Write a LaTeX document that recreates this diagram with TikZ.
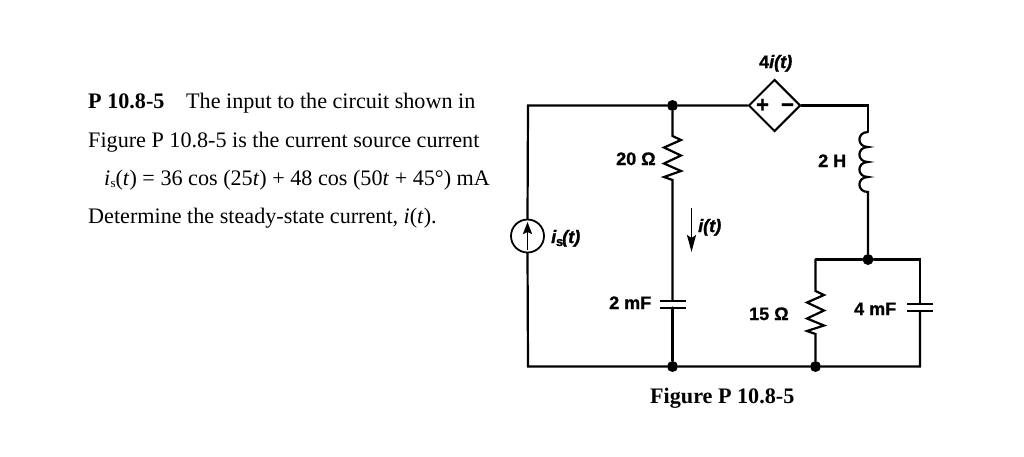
\documentclass[tikz,border=0pt]{standalone}
\usepackage{fontspec}
\setmainfont{Liberation Serif}
\newfontfamily\lab[BoldFeatures={FakeBold=1.2},BoldItalicFeatures={FakeBold=1.6}]{Liberation Sans}
\usetikzlibrary{shapes.geometric,arrows.meta}
\tikzset{
  x=1pt,y=-1pt,
  wire/.style={line width=2.2pt,line cap=round,line join=miter,black},
  thinw/.style={line width=2pt,line join=miter,black},
  dotn/.style={circle,fill=black,inner sep=0pt,minimum size=11pt},
  para/.style={anchor=base west,inner sep=0pt,font=\fontsize{22.15}{22}\selectfont},
  lbl/.style={anchor=base west,inner sep=0pt,font=\lab\bfseries\fontsize{18}{18}\selectfont},
  ptr/.style={line width=1.8pt,-{Stealth[length=17pt,width=9pt,inset=3pt]}},
}
\begin{document}
\begin{tikzpicture}
\useasboundingbox (0,0) rectangle (1024,456);
% text
\node[para] (t1a) at (88,108) {\textbf{P 10.8-5}};
\node[para] (t1b) at (186,108) {The input to the circuit shown in};
\node[para] (t2) at (88,147) {Figure P 10.8-5 is the current source current};
\node[para] (t3) at (104,185) {\textit{i}\kern0.2pt\raisebox{-2pt}{\fontsize{13}{13}\selectfont s}(\textit{t}) = 36 cos (25\textit{t}) + 48 cos (50\textit{t} + 45°) mA};
\node[para] (t4) at (88,223) {Determine the steady-state current, \textit{i}(\textit{t}).};
\node[para,font=\bfseries\fontsize{22.15}{22}\selectfont] (cap) at (650,403) {Figure P 10.8-5};
% junctions and corners
\node[dotn] (ntop) at (672.5,105.5) {};
\node[dotn] (nb1) at (672.5,366.5) {};
\node[dotn] (nb2) at (815.5,366.5) {};
\node[dotn] (nrt) at (868,259.5) {};
\coordinate (ctl) at (528,105.5);
\coordinate (cbl) at (528,366.5);
\coordinate (ctr) at (868,105.5);
\coordinate (crl) at (815.5,259.5);
\coordinate (crr) at (920,259.5);
\coordinate (cbr) at (920,366.5);
% source
\node[circle,draw,line width=1.8pt,inner sep=0pt,minimum size=33pt] (src) at (527.5,236) {};
\coordinate (sa) at (527.5,250);
\coordinate (sb) at (527.5,222);
\draw[line width=1.8pt,-{Stealth[length=12pt,width=9pt,inset=2pt]}] (sa) -- (sb);
% dependent source
\node[diamond,draw,line width=2pt,aspect=1,inner sep=0pt,minimum width=52pt,minimum height=52pt] (dep) at (774.5,105.5) {};
\node[anchor=base,inner sep=0pt,font=\lab\bfseries\fontsize{22}{22}\selectfont] (plus) at (762.5,112) {+};
\node[anchor=base,inner sep=0pt,font=\lab\bfseries\fontsize{22}{22}\selectfont] (minus) at (787.5,112) {−};
% wires
\draw[wire] (src.north) -- (ctl) -- (ntop) -- (dep.west);
\draw[wire] (src.south) -- (cbl) -- (nb1) -- (nb2) -- (cbr) -- (920,311);
\draw[wire] (dep.east) -- (ctr) -- (868,132);
% inductor
\draw[wire,line cap=butt] (868,132)
  .. controls (856.5,132) and (856.5,147) .. (868,147)
  .. controls (856.5,147) and (856.5,162) .. (868,162)
  .. controls (856.5,162) and (856.5,177) .. (868,177)
  .. controls (856.5,177) and (856.5,192) .. (868,192) -- (nrt);
% 20 ohm branch
\draw[wire,line cap=butt,line join=miter] (ntop) -- (672.5,136) -- (681,140) -- (664,147.5) -- (681,155.5) -- (664,163.5) -- (681,171) -- (664,177) -- (672.5,180) -- (672.5,301);
\draw[thinw] (659.5,301) -- (686,301);
\draw[thinw] (659.5,307.5) -- (686,307.5);
\draw[wire] (672.5,307.5) -- (nb1);
% right parallel
\draw[wire] (crl) -- (nrt) -- (crr) -- (920,304);
\draw[thinw] (907,304) -- (933,304);
\draw[thinw] (907,311) -- (933,311);
\draw[wire,line cap=butt,line join=miter] (crl) -- (815.5,291) -- (824,295) -- (807,302.5) -- (824,310.5) -- (807,318.5) -- (824,325.5) -- (807,331) -- (815.5,334) -- (nb2);
% current arrow
\coordinate (ia) at (691.5,208);
\coordinate (ib) at (691.5,252);
\draw[ptr] (ia) -- (ib);
% labels
\node[lbl] (l20) at (616,165) {20 Ω};
\node[lbl] (lis) at (551,243) {\textit{i}\kern-0.5pt\raisebox{-3pt}{\fontsize{13}{13}\selectfont s}\kern-1pt\textit{(t)}};
\node[lbl] (li) at (698,232) {\textit{i(t)}};
\node[lbl] (ldep) at (759,68) {4\textit{i(t)}};
\node[lbl] (l2h) at (818,167) {2 H};
\node[lbl] (l2m) at (609,309) {2 mF};
\node[lbl] (l15) at (749,320) {15 Ω};
\node[lbl] (l4m) at (854,315) {4 mF};
\end{tikzpicture}
\end{document}
